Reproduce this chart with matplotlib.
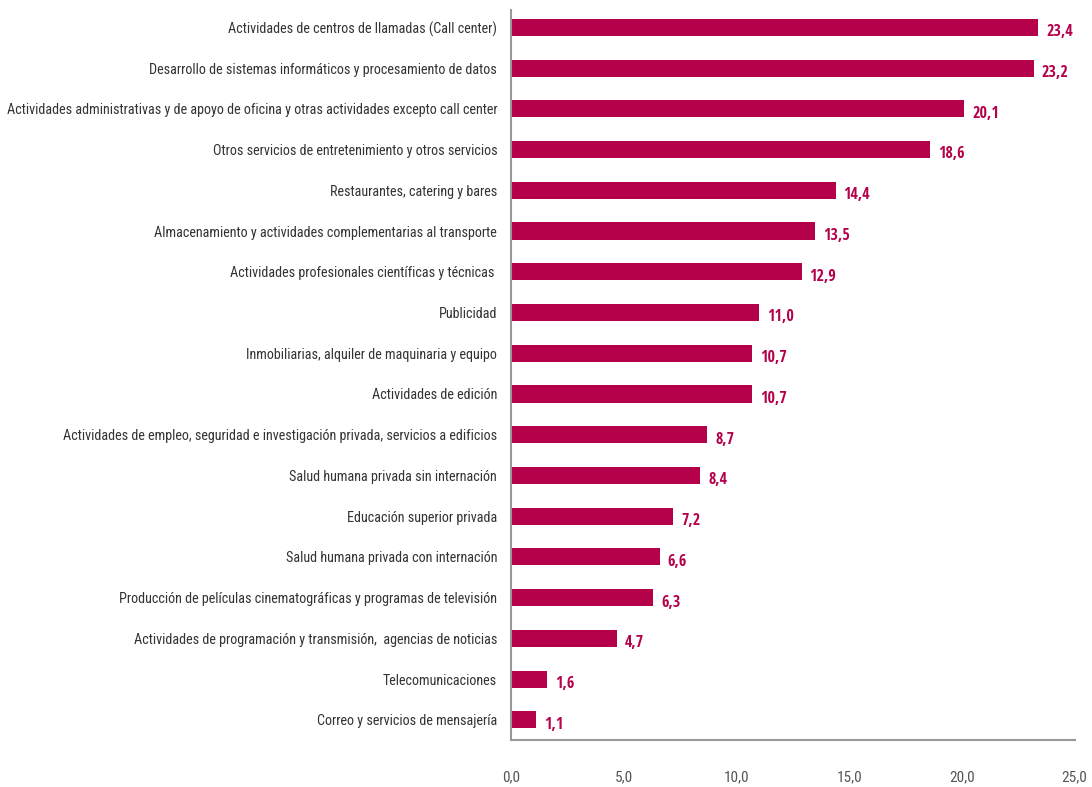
import matplotlib.pyplot as plt

# Datos
sectores = [
    "Actividades de centros de llamadas (Call center)",
    "Desarrollo de sistemas informáticos y procesamiento de datos",
    "Actividades administrativas y de apoyo de oficina y otras actividades excepto call center",
    "Otros servicios de entretenimiento y otros servicios",
    "Restaurantes, catering y bares",
    "Almacenamiento y actividades complementarias al transporte",
    "Actividades profesionales científicas y técnicas ",
    "Publicidad",
    "Inmobiliarias, alquiler de maquinaria y equipo",
    "Actividades de edición",
    "Actividades de empleo, seguridad e investigación privada, servicios a edificios",
    "Salud humana privada sin internación",
    "Educación superior privada",
    "Salud humana privada con internación",
    "Producción de películas cinematográficas y programas de televisión",
    "Actividades de programación y transmisión,  agencias de noticias",
    "Telecomunicaciones",
    "Correo y servicios de mensajería",
]
valores = [23.4, 23.2, 20.1, 18.6, 14.4, 13.5, 12.9, 11.0, 10.7, 10.7,
           8.7, 8.4, 7.2, 6.6, 6.3, 4.7, 1.6, 1.1]
ticks_x = [0, 5, 10, 15, 20, 25]

plt.rcParams['font.family'] = ['Roboto Condensed', 'DejaVu Sans']

color = "#B5004A"

fig = plt.figure(figsize=(10.92, 7.87), dpi=100)
ax = fig.add_axes([0.468, 0.06, 0.516, 0.927])

pos = list(range(len(valores)))
ax.barh(pos, valores, height=0.42, color=color)

for p, v in zip(pos, valores):
    ax.text(v + 0.35, p + 0.12, f"{v:.1f}".replace(".", ","), va="center", ha="left",
            color=color, fontsize=11.5, fontweight="bold",
            family=['Open Sans Condensed', 'Roboto Condensed', 'DejaVu Sans'])

ax.set_ylim(17.49, -0.42)
ax.set_xlim(0, 25)
ax.set_yticks(pos)
ax.set_yticklabels(sectores, fontsize=10.2, color="#333333")
ax.set_xticks(ticks_x)
ax.set_xticklabels([f"{t:.1f}".replace(".", ",") for t in ticks_x], fontsize=11, color="#555555")
ax.tick_params(axis="both", length=0)
ax.tick_params(axis="y", pad=10)
ax.tick_params(axis="x", pad=22)

for s in ["top", "right"]:
    ax.spines[s].set_visible(False)
for s in ["left", "bottom"]:
    ax.spines[s].set_color("#999999")
    ax.spines[s].set_linewidth(1.5)

fig.savefig("out.png", dpi=100)
